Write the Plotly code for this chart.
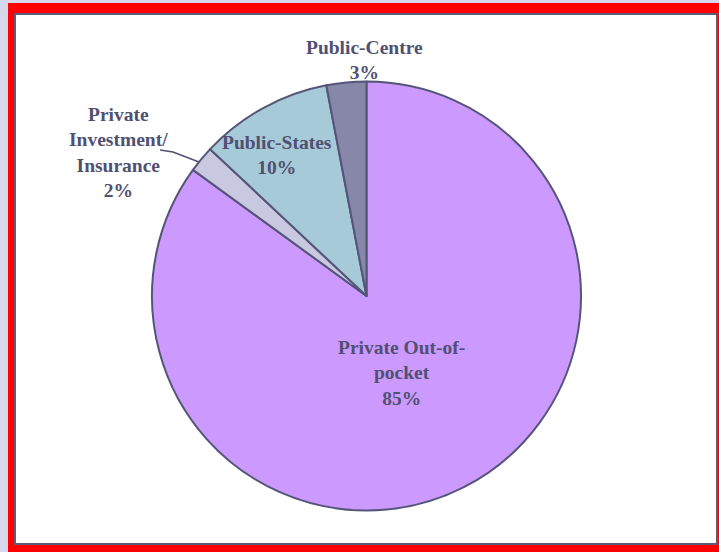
import plotly.graph_objects as go

labels = ["Private Out-of-pocket", "Private Investment/ Insurance", "Public-States", "Public-Centre"]
values = [85, 2, 10, 3]
colors = ["#CC99FF", "#C8C8E0", "#A6CAD8", "#8787AA"]
label_texts = ["Private Out-of-<br>pocket<br>85%", "Private<br>Investment/<br>Insurance<br>2%",
               "Public-States<br>10%", "Public-Centre<br>3%"]

W, H = 719, 552
def px(x):
    return x / W
def py(y):
    return 1 - y / H

cx, cy, r = 366.5, 296, 214.5

fig = go.Figure(go.Pie(
    labels=labels, values=values, sort=False, direction="clockwise", rotation=0,
    marker=dict(colors=colors, line=dict(color="#555577", width=2)),
    textinfo="none", hoverinfo="label+percent", showlegend=False,
    domain=dict(x=[px(cx - r), px(cx + r)], y=[py(cy + r), py(cy - r)]),
))

font = dict(family="Liberation Serif, Times New Roman, serif", size=19.5, color="#505070")
# label positions (pixel centres of text blocks)
label_pos = [(402, 373), (118, 152), (277, 155), (365, 60)]
annotations = []
for t, (x, y) in zip(label_texts, label_pos):
    annotations.append(dict(text="<b>" + t + "</b>", x=px(x), y=py(y), xref="paper", yref="paper",
                            showarrow=False, xanchor="center", yanchor="middle", font=font,
                            align="center"))

shapes = [
    dict(type="rect", xref="paper", yref="paper", x0=px(8), x1=px(719), y0=py(552), y1=py(3),
         fillcolor="#FF0000", line=dict(width=0), layer="below"),
    dict(type="rect", xref="paper", yref="paper", x0=px(15), x1=px(717), y0=py(544), y1=py(14),
         fillcolor="#FFFFFF", line=dict(color="#5A5A7A", width=2), layer="below"),
    dict(type="path", xref="paper", yref="paper",
         path=f"M {px(160)},{py(150)} L {px(173)},{py(152)} L {px(199)},{py(162)}",
         line=dict(color="#505070", width=1.5)),
]

fig.update_layout(
    width=W, height=H, margin=dict(l=0, r=0, t=0, b=0),
    paper_bgcolor="#D8D8EC", plot_bgcolor="#FFFFFF",
    annotations=annotations, shapes=shapes,
)
fig.write_html("out.html", config={"displayModeBar": False},
               post_script="document.body.style.margin='0px';document.body.style.overflow='hidden';")
